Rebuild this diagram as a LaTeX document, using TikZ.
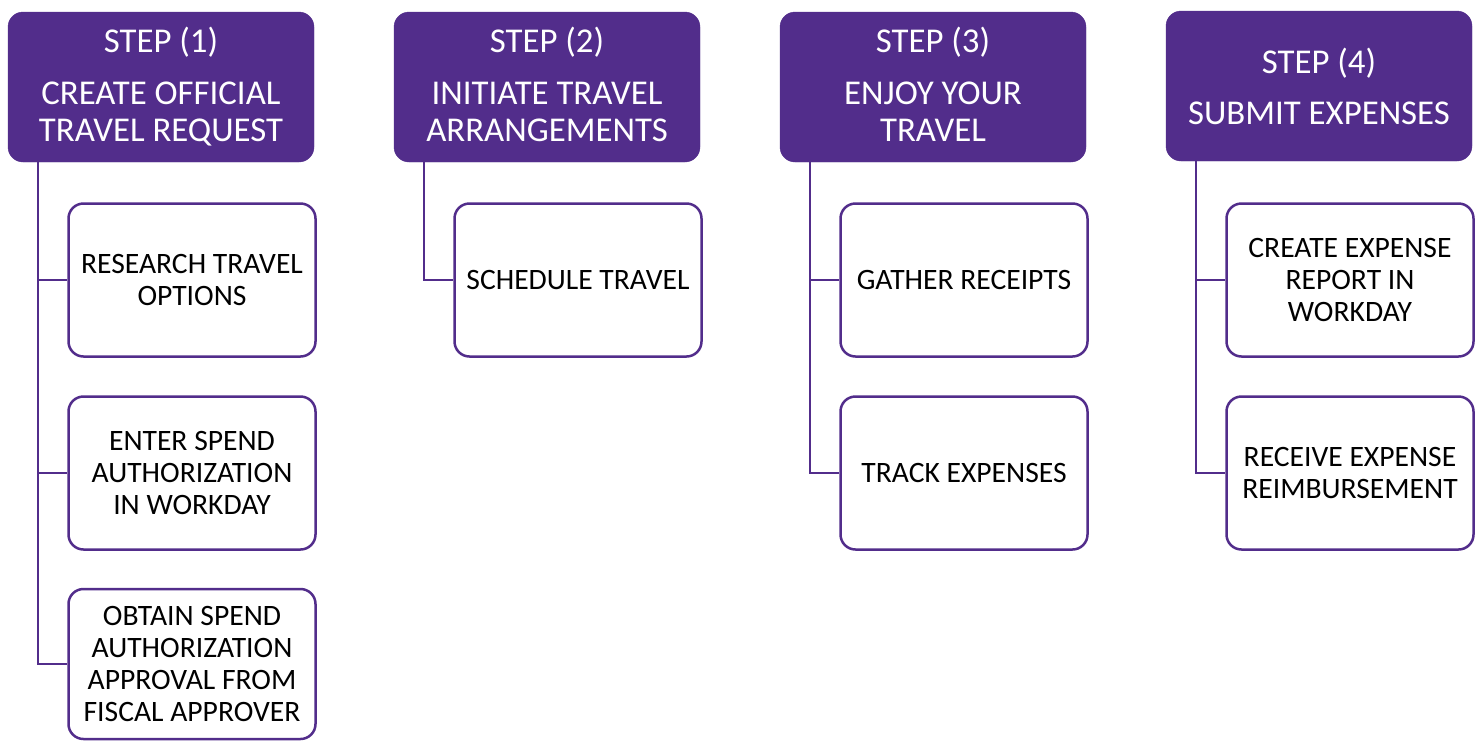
\documentclass[tikz,border=0pt]{standalone}
\usepackage{fontspec}
\setmainfont{Carlito}
\usetikzlibrary{calc}
\definecolor{uwpurple}{RGB}{82,45,139}
\tikzset{
  header/.style={fill=uwpurple, draw=uwpurple, rounded corners=15pt, minimum width=306pt, minimum height=150pt,
    text=white, align=center, font=\fontsize{34.8}{37}\selectfont, inner sep=0pt},
  child/.style={draw=uwpurple, line width=2.5pt, fill=white, rounded corners=15pt, minimum width=247pt, minimum height=153pt,
    text=black, align=center, font=\fontsize{29.6}{32}\selectfont, inner sep=0pt},
  conn/.style={draw=uwpurple, line width=2.5pt}
}
\begin{document}
\begin{tikzpicture}[x=1pt,y=-1pt]
\useasboundingbox (0,0) rectangle (1478,740);
% headers
\node[header] (h1) at (161,87) {STEP (1)\\[15pt]CREATE OFFICIAL\\TRAVEL REQUEST};
\node[header] (h2) at (547,87) {STEP (2)\\[15pt]INITIATE TRAVEL\\ARRANGEMENTS\vphantom{Q}};
\node[header] (h3) at (933,87) {STEP (3)\\[15pt]ENJOY YOUR\\TRAVEL\vphantom{Q}};
\node[header] (h4) at (1319,86) {STEP (4)\\[14pt]SUBMIT EXPENSES};
% children
\node[child] (c11) at (192,280) {RESEARCH TRAVEL\\OPTIONS};
\node[child] (c12) at (192,473) {ENTER SPEND\\AUTHORIZATION\\IN WORKDAY};
\node[child, minimum height=150pt] (c13) at (192,664) {OBTAIN SPEND\\AUTHORIZATION\\APPROVAL FROM\\FISCAL APPROVER};
\node[child] (c21) at (578,280) {SCHEDULE TRAVEL};
\node[child] (c31) at (964,280) {GATHER RECEIPTS};
\node[child] (c32) at (964,473) {TRACK EXPENSES};
\node[child] (c41) at (1350,280) {CREATE EXPENSE\\REPORT IN\\WORKDAY};
\node[child] (c42) at (1350,473) {RECEIVE EXPENSE\\REIMBURSEMENT};
% connectors
\coordinate (t1) at ($(h1.south west)+(30,0)$);
\coordinate (t2) at ($(h2.south west)+(30,0)$);
\coordinate (t3) at ($(h3.south west)+(30,0)$);
\coordinate (t4) at ($(h4.south west)+(30,0)$);
\draw[conn] (t1) |- (c13.west);
\draw[conn] (t1) |- (c11.west);
\draw[conn] (t1) |- (c12.west);
\draw[conn] (t2) |- (c21.west);
\draw[conn] (t3) |- (c32.west);
\draw[conn] (t3) |- (c31.west);
\draw[conn] (t4) |- (c42.west);
\draw[conn] (t4) |- (c41.west);
\end{tikzpicture}
\end{document}
